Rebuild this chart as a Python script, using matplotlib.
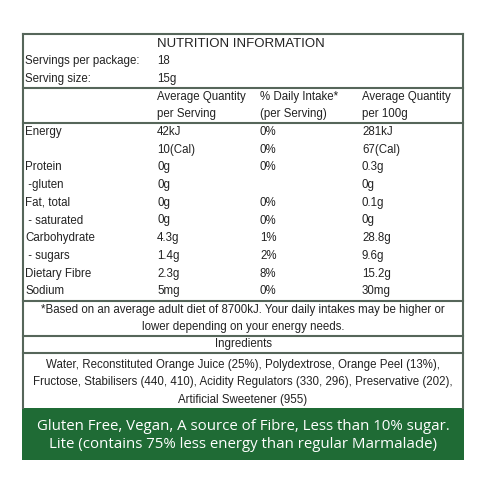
import matplotlib.pyplot as plt

# nutrition panel content
title = "NUTRITION INFORMATION"
servings = [("Servings per package:", "18"), ("Serving size:", "15g")]
headers = [("Average Quantity", "% Daily Intake*", "Average Quantity"),
           ("per Serving", "(per Serving)", "per 100g")]
rows = ["Energy", "", "Protein", " -gluten", "Fat, total", " - saturated",
        "Carbohydrate", " - sugars", "Dietary Fibre", "Sodium"]
per_serving = ["42kJ", "10(Cal)", "0g", "0g", "0g", "0g", "4.3g", "1.4g", "2.3g", "5mg"]
daily_intake = ["0%", "0%", "0%", "", "0%", "0%", "1%", "2%", "8%", "0%"]
per_100g = ["281kJ", "67(Cal)", "0.3g", "0g", "0.1g", "0g", "28.8g", "9.6g", "15.2g", "30mg"]
footnote = ["*Based on an average adult diet of 8700kJ. Your daily intakes may be higher or",
            "lower depending on your energy needs."]
ingredients = ["Water, Reconstituted Orange Juice (25%), Polydextrose, Orange Peel (13%),",
               "Fructose, Stabilisers (440, 410), Acidity Regulators (330, 296), Preservative (202),",
               "Artificial Sweetener (955)"]
banner = ["Gluten Free, Vegan, A source of Fibre, Less than 10% sugar.",
          "Lite (contains 75% less energy than regular Marmalade)"]

line_c = "#56665a"
txt_c = "#222222"
font = "Liberation Sans"

fig = plt.figure(figsize=(4.8, 4.8), dpi=100)
ax = fig.add_axes([0, 0, 1, 1])
ax.set_xlim(0, 480)
ax.set_ylim(480, 0)
ax.axis("off")

L, R, T = 23, 463, 34
ax.plot([L, L], [T, 408], color=line_c, lw=1.5)
ax.plot([R, R], [T, 408], color=line_c, lw=1.5)
ax.plot([L, R], [T, T], color=line_c, lw=1.5)
for y in [88, 123, 301, 336, 353]:
    ax.plot([L, R], [y, y], color=line_c, lw=1.5)
ax.add_patch(plt.Rectangle((L - 1, 408), R - L + 2, 52, color="#1f6b35", lw=0))

cols = [25, 157, 260, 362]
kw = dict(fontsize=8.3, color=txt_c, family=font, va="center")
ax.text(cols[1], 44, title, fontsize=9.5, color=txt_c, family=font, va="center")
for i, (a, b) in enumerate(servings):
    ax.text(cols[0], 61 + 18 * i, a, **kw)
    ax.text(cols[1], 61 + 18 * i, b, **kw)
for i, hdr in enumerate(headers):
    for x, s in zip(cols[1:], hdr):
        ax.text(x, 97 + 17.5 * i, s, **kw)
for i, r in enumerate(rows):
    y = 132 + 17.7 * i
    for x, s in zip(cols, [r, per_serving[i], daily_intake[i], per_100g[i]]):
        ax.text(x, y, s, **kw)
kc = dict(kw, ha="center")
cx = (L + R) / 2
for i, s in enumerate(footnote):
    ax.text(cx, 310 + 17 * i, s, **kc)
ax.text(cx, 344, "Ingredients", **kc)
for i, s in enumerate(ingredients):
    ax.text(cx, 365 + 17.5 * i, s, **kc)
for i, s in enumerate(banner):
    ax.text(cx, 426 + 18 * i, s, fontsize=10.8, color="white", family="Open Sans",
            ha="center", va="center")

fig.savefig("out.png", dpi=100)
